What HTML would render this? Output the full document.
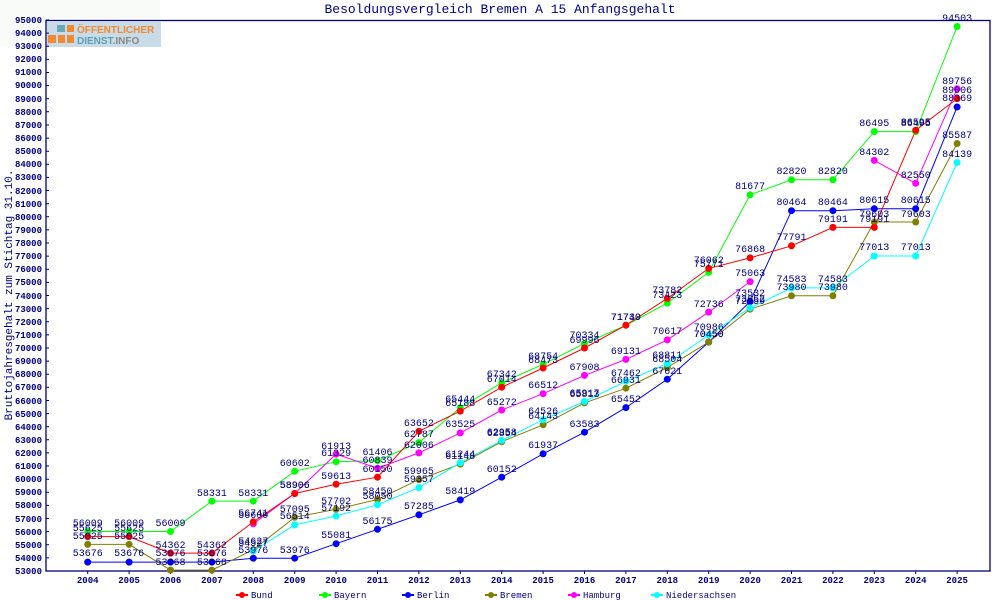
<!DOCTYPE html>
<html><head><meta charset="utf-8"><style>
html,body{margin:0;padding:0;background:#fff;}
svg{display:block;font-family:"Liberation Mono","DejaVu Sans Mono",monospace;}
.y{font-size:9px;font-weight:bold;fill:#000080;text-anchor:end;}
.x{font-size:9px;font-weight:bold;fill:#000080;text-anchor:middle;}
.l{font-size:10px;fill:#000080;text-anchor:middle;}
.lg{font-size:9px;fill:#000080;}
</style></head><body>
<svg width="1000" height="600" viewBox="0 0 1000 600" xmlns="http://www.w3.org/2000/svg">
<rect x="0" y="0" width="160" height="46" fill="#f9fbf8"/>
<text x="500" y="13" font-size="13" fill="#000080" text-anchor="middle">Besoldungsvergleich Bremen A 15 Anfangsgehalt</text>
<text transform="translate(12,295) rotate(-90)" font-size="11" fill="#000080" text-anchor="middle">Bruttojahresgehalt zum Stichtag 31.10.</text>
<!-- logo -->
<rect x="47" y="22" width="114" height="25" fill="#c9dbe6"/>
<rect x="57" y="25" width="8" height="7" fill="#6aaab8"/>
<rect x="67" y="25" width="7" height="7" fill="#f08a30"/>
<rect x="48" y="35" width="8" height="8" fill="#f08a30"/>
<rect x="58" y="35" width="7" height="8" fill="#f08a30"/>
<rect x="67" y="35" width="7" height="8" fill="#f08a30"/>
<text x="77" y="33" font-family="Liberation Sans" font-weight="bold" font-size="10" fill="#f08a30">ÖFFENTLICHER</text>
<text x="77" y="44" font-family="Liberation Sans" font-weight="bold" font-size="10" fill="#5aa0b8">DIENST<tspan fill="#888">.INFO</tspan></text>
<!-- axes -->
<rect x="46" y="20.5" width="944" height="550.5" fill="none" stroke="#000080" stroke-width="1.3"/>
<g stroke="#000080" stroke-width="1">
<path d="M46 571h3M46 557.9h3M46 544.8h3M46 531.6h3M46 518.5h3M46 505.4h3M46 492.3h3M46 479.2h3M46 466h3M46 452.9h3M46 439.8h3M46 426.7h3M46 413.6h3M46 400.5h3M46 387.3h3M46 374.2h3M46 361.1h3M46 348h3M46 334.9h3M46 321.7h3M46 308.6h3M46 295.5h3M46 282.4h3M46 269.3h3M46 256.1h3M46 243h3M46 229.9h3M46 216.8h3M46 203.7h3M46 190.5h3M46 177.4h3M46 164.3h3M46 151.2h3M46 138.1h3M46 125h3M46 111.8h3M46 98.7h3M46 85.6h3M46 72.5h3M46 59.4h3M46 46.2h3M46 33.1h3M46 20h3"/>
<path d="M87.7 571v3M129.1 571v3M170.5 571v3M211.9 571v3M253.3 571v3M294.7 571v3M336.1 571v3M377.5 571v3M418.9 571v3M460.3 571v3M501.7 571v3M543.1 571v3M584.5 571v3M625.9 571v3M667.3 571v3M708.7 571v3M750.1 571v3M791.5 571v3M832.9 571v3M874.3 571v3M915.7 571v3M957.1 571v3"/>
</g>
<g class="y">
<text x="42" y="574">53000</text><text x="42" y="561">54000</text><text x="42" y="548">55000</text><text x="42" y="535">56000</text><text x="42" y="522">57000</text><text x="42" y="508">58000</text><text x="42" y="495">59000</text><text x="42" y="482">60000</text><text x="42" y="469">61000</text><text x="42" y="456">62000</text><text x="42" y="443">63000</text><text x="42" y="430">64000</text><text x="42" y="417">65000</text><text x="42" y="404">66000</text><text x="42" y="390">67000</text><text x="42" y="377">68000</text><text x="42" y="364">69000</text><text x="42" y="351">70000</text><text x="42" y="338">71000</text><text x="42" y="325">72000</text><text x="42" y="312">73000</text><text x="42" y="299">74000</text><text x="42" y="285">75000</text><text x="42" y="272">76000</text><text x="42" y="259">77000</text><text x="42" y="246">78000</text><text x="42" y="233">79000</text><text x="42" y="220">80000</text><text x="42" y="207">81000</text><text x="42" y="194">82000</text><text x="42" y="180">83000</text><text x="42" y="167">84000</text><text x="42" y="154">85000</text><text x="42" y="141">86000</text><text x="42" y="128">87000</text><text x="42" y="115">88000</text><text x="42" y="102">89000</text><text x="42" y="88">90000</text><text x="42" y="75">91000</text><text x="42" y="62">92000</text><text x="42" y="49">93000</text><text x="42" y="36">94000</text><text x="42" y="23">95000</text>
</g>
<g class="x">
<text x="87.7" y="583">2004</text><text x="129.1" y="583">2005</text><text x="170.5" y="583">2006</text><text x="211.9" y="583">2007</text><text x="253.3" y="583">2008</text><text x="294.7" y="583">2009</text><text x="336.1" y="583">2010</text><text x="377.5" y="583">2011</text><text x="418.9" y="583">2012</text><text x="460.3" y="583">2013</text><text x="501.7" y="583">2014</text><text x="543.1" y="583">2015</text><text x="584.5" y="583">2016</text><text x="625.9" y="583">2017</text><text x="667.3" y="583">2018</text><text x="708.7" y="583">2019</text><text x="750.1" y="583">2020</text><text x="791.5" y="583">2021</text><text x="832.9" y="583">2022</text><text x="874.3" y="583">2023</text><text x="915.7" y="583">2024</text><text x="957.1" y="583">2025</text>
</g>
<!-- series -->
<g fill="none" stroke-width="1">
<polyline stroke="#00ff00" points="87.7,531.5 129.1,531.5 170.5,531.5 211.9,501.1 253.3,501.1 294.7,471.3 336.1,461.7 377.5,460.7 418.9,442.6 460.3,407.7 501.7,382.8 543.1,364.3 584.5,343.6 625.9,325.3 667.3,303.1 708.7,272.3 750.1,194.8 791.5,179.8 832.9,179.8 874.3,131.6 915.7,131.6 957.1,26.5"/>
<polyline stroke="#0000ff" points="87.7,562.1 129.1,562.1 170.5,562.1 211.9,562.1 253.3,558.2 294.7,558.2 336.1,543.7 377.5,529.3 418.9,514.8 460.3,499.9 501.7,477.2 543.1,453.8 584.5,432.2 625.9,407.6 667.3,379.2 708.7,342.1 750.1,301.6 791.5,210.7 832.9,210.7 874.3,208.7 915.7,208.7 957.1,107"/>
<polyline stroke="#808000" points="87.7,544.4 129.1,544.4 170.5,570.1 211.9,570.1 253.3,549.7 294.7,517.3 336.1,509.3 377.5,499.5 418.9,479.6 460.3,464.1 501.7,441.7 543.1,424.8 584.5,402.9 625.9,388.2 667.3,367.6 708.7,342.1 750.1,309.2 791.5,295.8 832.9,295.8 874.3,222 915.7,222 957.1,143.5"/>
<polyline stroke="#00ffff" points="253.3,551 294.7,524.9 336.1,516 377.5,504.8 418.9,487.6 460.3,462.8 501.7,440.4 543.1,419.8 584.5,401.5 625.9,381.3 667.3,363.6 708.7,335 750.1,307.9 791.5,287.9 832.9,287.9 874.3,256 915.7,256 957.1,162.5"/>
<polyline stroke="#ff00ff" points="253.3,523.8 294.7,493.5 336.1,454.1 377.5,468.2 418.9,452.9 460.3,432.9 501.7,410 543.1,393.7 584.5,375.4 625.9,359.4 667.3,339.9 708.7,312.1 750.1,281.6"/>
<polyline stroke="#ff00ff" points="874.3,160.4 915.7,183.3 957.1,88.8"/>
<polyline stroke="#ff0000" points="87.7,536.6 129.1,536.6 170.5,553.1 211.9,553.1 253.3,521.9 294.7,493.5 336.1,484.2 377.5,477.2 418.9,431.3 460.3,411.1 501.7,387.2 543.1,368 584.5,348 625.9,325.2 667.3,298.4 708.7,268.4 750.1,257.9 791.5,245.8 832.9,227.4 874.3,227.4 915.7,130.3 957.1,98.6"/>
</g>
<g stroke-width="7" stroke-linecap="round" fill="none">
<path stroke="#00ff00" d="M87.7 531.5h0M129.1 531.5h0M170.5 531.5h0M211.9 501.1h0M253.3 501.1h0M294.7 471.3h0M336.1 461.7h0M377.5 460.7h0M418.9 442.6h0M460.3 407.7h0M501.7 382.8h0M543.1 364.3h0M584.5 343.6h0M625.9 325.3h0M667.3 303.1h0M708.7 272.3h0M750.1 194.8h0M791.5 179.8h0M832.9 179.8h0M874.3 131.6h0M915.7 131.6h0M957.1 26.5h0"/>
<path stroke="#0000ff" d="M87.7 562.1h0M129.1 562.1h0M170.5 562.1h0M211.9 562.1h0M253.3 558.2h0M294.7 558.2h0M336.1 543.7h0M377.5 529.3h0M418.9 514.8h0M460.3 499.9h0M501.7 477.2h0M543.1 453.8h0M584.5 432.2h0M625.9 407.6h0M667.3 379.2h0M708.7 342.1h0M750.1 301.6h0M791.5 210.7h0M832.9 210.7h0M874.3 208.7h0M915.7 208.7h0M957.1 107h0"/>
<path stroke="#808000" d="M87.7 544.4h0M129.1 544.4h0M170.5 570.1h0M211.9 570.1h0M253.3 549.7h0M294.7 517.3h0M336.1 509.3h0M377.5 499.5h0M418.9 479.6h0M460.3 464.1h0M501.7 441.7h0M543.1 424.8h0M584.5 402.9h0M625.9 388.2h0M667.3 367.6h0M708.7 342.1h0M750.1 309.2h0M791.5 295.8h0M832.9 295.8h0M874.3 222h0M915.7 222h0M957.1 143.5h0"/>
<path stroke="#00ffff" d="M253.3 551h0M294.7 524.9h0M336.1 516h0M377.5 504.8h0M418.9 487.6h0M460.3 462.8h0M501.7 440.4h0M543.1 419.8h0M584.5 401.5h0M625.9 381.3h0M667.3 363.6h0M708.7 335h0M750.1 307.9h0M791.5 287.9h0M832.9 287.9h0M874.3 256h0M915.7 256h0M957.1 162.5h0"/>
<path stroke="#ff00ff" d="M253.3 523.8h0M294.7 493.5h0M336.1 454.1h0M377.5 468.2h0M418.9 452.9h0M460.3 432.9h0M501.7 410h0M543.1 393.7h0M584.5 375.4h0M625.9 359.4h0M667.3 339.9h0M708.7 312.1h0M750.1 281.6h0M874.3 160.4h0M915.7 183.3h0M957.1 88.8h0"/>
<path stroke="#ff0000" d="M87.7 536.6h0M129.1 536.6h0M170.5 553.1h0M211.9 553.1h0M253.3 521.9h0M294.7 493.5h0M336.1 484.2h0M377.5 477.2h0M418.9 431.3h0M460.3 411.1h0M501.7 387.2h0M543.1 368h0M584.5 348h0M625.9 325.2h0M667.3 298.4h0M708.7 268.4h0M750.1 257.9h0M791.5 245.8h0M832.9 227.4h0M874.3 227.4h0M915.7 130.3h0M957.1 98.6h0"/>
</g>
<!-- value labels -->
<g class="l">
<text x="87.7" y="526">56009</text><text x="129.1" y="526">56009</text><text x="170.5" y="526">56009</text><text x="211.9" y="496">58331</text><text x="253.3" y="496">58331</text><text x="294.7" y="466">60602</text><text x="336.1" y="456">61329</text><text x="377.5" y="455">61406</text><text x="418.9" y="437">62787</text><text x="460.3" y="402">65444</text><text x="501.7" y="377">67342</text><text x="543.1" y="359">68754</text><text x="584.5" y="338">70334</text><text x="625.9" y="320">71730</text><text x="667.3" y="298">73423</text><text x="708.7" y="267">75771</text><text x="750.1" y="189">81677</text><text x="791.5" y="174">82820</text><text x="832.9" y="174">82820</text><text x="874.3" y="126">86495</text><text x="915.7" y="126">86495</text><text x="957.1" y="21">94503</text>
<text x="87.7" y="531">55625</text><text x="129.1" y="531">55625</text><text x="170.5" y="548">54362</text><text x="211.9" y="548">54362</text><text x="253.3" y="516">56741</text><text x="294.7" y="488">58906</text><text x="336.1" y="479">59613</text><text x="377.5" y="472">60150</text><text x="418.9" y="426">63652</text><text x="460.3" y="406">65188</text><text x="501.7" y="382">67014</text><text x="543.1" y="363">68473</text><text x="584.5" y="343">69996</text><text x="625.9" y="320">71740</text><text x="667.3" y="293">73782</text><text x="708.7" y="263">76062</text><text x="750.1" y="252">76868</text><text x="791.5" y="240">77791</text><text x="832.9" y="222">79191</text><text x="874.3" y="222">79191</text><text x="915.7" y="125">86595</text><text x="957.1" y="93">89006</text>
<text x="87.7" y="556">53676</text><text x="129.1" y="556">53676</text><text x="170.5" y="556">53676</text><text x="211.9" y="556">53676</text><text x="253.3" y="553">53976</text><text x="294.7" y="553">53976</text><text x="336.1" y="538">55081</text><text x="377.5" y="524">56175</text><text x="418.9" y="509">57285</text><text x="460.3" y="494">58419</text><text x="501.7" y="472">60152</text><text x="543.1" y="448">61937</text><text x="584.5" y="427">63583</text><text x="625.9" y="402">65452</text><text x="667.3" y="374">67621</text><text x="708.7" y="337">70450</text><text x="750.1" y="296">73532</text><text x="791.5" y="205">80464</text><text x="832.9" y="205">80464</text><text x="874.3" y="203">80615</text><text x="915.7" y="203">80615</text><text x="957.1" y="101">88369</text>
<text x="87.7" y="539">55025</text><text x="129.1" y="539">55025</text><text x="170.5" y="565">53068</text><text x="211.9" y="565">53068</text><text x="253.3" y="544">54627</text><text x="294.7" y="512">57095</text><text x="336.1" y="504">57702</text><text x="377.5" y="494">58450</text><text x="418.9" y="474">59965</text><text x="460.3" y="459">61148</text><text x="501.7" y="436">62854</text><text x="543.1" y="419">64143</text><text x="584.5" y="397">65813</text><text x="625.9" y="383">66931</text><text x="667.3" y="362">68504</text><text x="708.7" y="337">70450</text><text x="750.1" y="304">72959</text><text x="791.5" y="290">73980</text><text x="832.9" y="290">73980</text><text x="874.3" y="217">79603</text><text x="915.7" y="217">79603</text><text x="957.1" y="138">85587</text>
<text x="253.3" y="546">54527</text><text x="294.7" y="519">56514</text><text x="336.1" y="511">57192</text><text x="377.5" y="499">58050</text><text x="418.9" y="482">59357</text><text x="460.3" y="457">61244</text><text x="501.7" y="435">62958</text><text x="543.1" y="414">64526</text><text x="584.5" y="396">65917</text><text x="625.9" y="376">67462</text><text x="667.3" y="358">68811</text><text x="708.7" y="330">70986</text><text x="750.1" y="302">73052</text><text x="791.5" y="282">74583</text><text x="832.9" y="282">74583</text><text x="874.3" y="250">77013</text><text x="915.7" y="250">77013</text><text x="957.1" y="157">84139</text>
<text x="253.3" y="518">56600</text><text x="294.7" y="488">58906</text><text x="336.1" y="449">61913</text><text x="377.5" y="463">60839</text><text x="418.9" y="448">62006</text><text x="460.3" y="427">63525</text><text x="501.7" y="405">65272</text><text x="543.1" y="388">66512</text><text x="584.5" y="370">67908</text><text x="625.9" y="354">69131</text><text x="667.3" y="334">70617</text><text x="708.7" y="307">72736</text><text x="750.1" y="276">75063</text><text x="874.3" y="155">84302</text><text x="915.7" y="178">82550</text><text x="957.1" y="84">89756</text>
</g>
<!-- legend -->
<g stroke-width="2">
<line x1="236" y1="595" x2="248" y2="595" stroke="#ff0000"/><circle cx="242" cy="595" r="3" fill="#ff0000"/>
<line x1="319" y1="595" x2="331" y2="595" stroke="#00ff00"/><circle cx="325" cy="595" r="3" fill="#00ff00"/>
<line x1="402" y1="595" x2="414" y2="595" stroke="#0000ff"/><circle cx="408" cy="595" r="3" fill="#0000ff"/>
<line x1="485" y1="595" x2="497" y2="595" stroke="#808000"/><circle cx="491" cy="595" r="3" fill="#808000"/>
<line x1="568" y1="595" x2="580" y2="595" stroke="#ff00ff"/><circle cx="574" cy="595" r="3" fill="#ff00ff"/>
<line x1="651" y1="595" x2="663" y2="595" stroke="#00ffff"/><circle cx="657" cy="595" r="3" fill="#00ffff"/>
</g>
<g class="lg">
<text x="251" y="598">Bund</text><text x="334" y="598">Bayern</text><text x="417" y="598">Berlin</text><text x="500" y="598">Bremen</text><text x="583" y="598">Hamburg</text><text x="666" y="598">Niedersachsen</text>
</g>
</svg>
</body></html>
